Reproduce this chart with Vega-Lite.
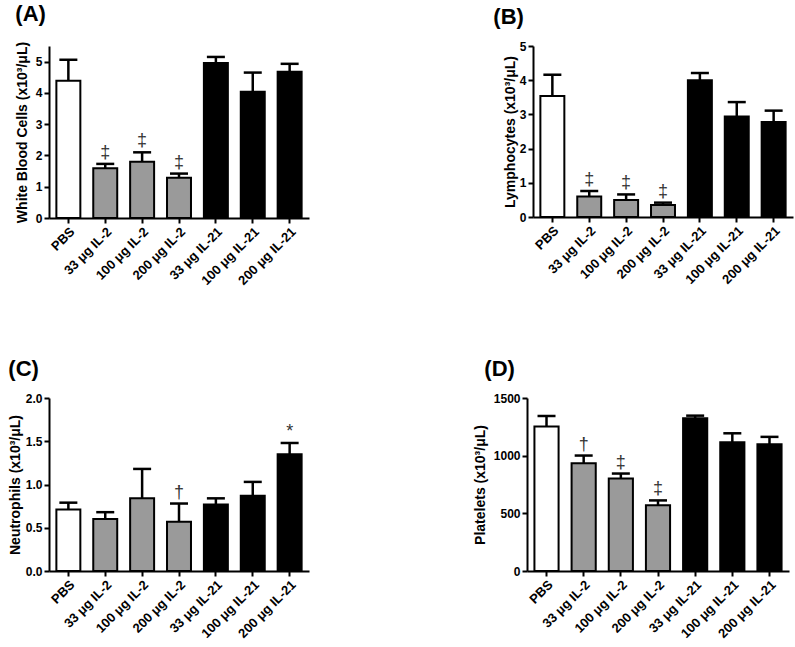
{
  "$schema": "https://vega.github.io/schema/vega-lite/v6.json",
  "padding": {"left": 8, "top": 2, "right": 5, "bottom": 5},
  "background": "white",
  "datasets": {
    "wbc": [
      {"group": "PBS", "cls": "ctrl", "value": 4.39, "err": 5.06, "sig": ""},
      {"group": "33 μg IL-2", "cls": "il2", "value": 1.59, "err": 1.73, "sig": "‡"},
      {"group": "100 μg IL-2", "cls": "il2", "value": 1.80, "err": 2.10, "sig": "‡"},
      {"group": "200 μg IL-2", "cls": "il2", "value": 1.29, "err": 1.42, "sig": "‡"},
      {"group": "33 μg IL-21", "cls": "il21", "value": 4.96, "err": 5.15, "sig": ""},
      {"group": "100 μg IL-21", "cls": "il21", "value": 4.04, "err": 4.65, "sig": ""},
      {"group": "200 μg IL-21", "cls": "il21", "value": 4.68, "err": 4.93, "sig": ""}
    ],
    "lymph": [
      {"group": "PBS", "cls": "ctrl", "value": 3.54, "err": 4.16, "sig": ""},
      {"group": "33 μg IL-2", "cls": "il2", "value": 0.60, "err": 0.76, "sig": "‡"},
      {"group": "100 μg IL-2", "cls": "il2", "value": 0.50, "err": 0.66, "sig": "‡"},
      {"group": "200 μg IL-2", "cls": "il2", "value": 0.35, "err": 0.42, "sig": "‡"},
      {"group": "33 μg IL-21", "cls": "il21", "value": 4.00, "err": 4.21, "sig": ""},
      {"group": "100 μg IL-21", "cls": "il21", "value": 2.94, "err": 3.36, "sig": ""},
      {"group": "200 μg IL-21", "cls": "il21", "value": 2.78, "err": 3.11, "sig": ""}
    ],
    "neut": [
      {"group": "PBS", "cls": "ctrl", "value": 0.71, "err": 0.79, "sig": ""},
      {"group": "33 μg IL-2", "cls": "il2", "value": 0.60, "err": 0.68, "sig": ""},
      {"group": "100 μg IL-2", "cls": "il2", "value": 0.84, "err": 1.18, "sig": ""},
      {"group": "200 μg IL-2", "cls": "il2", "value": 0.57, "err": 0.78, "sig": "†"},
      {"group": "33 μg IL-21", "cls": "il21", "value": 0.77, "err": 0.84, "sig": ""},
      {"group": "100 μg IL-21", "cls": "il21", "value": 0.87, "err": 1.03, "sig": ""},
      {"group": "200 μg IL-21", "cls": "il21", "value": 1.35, "err": 1.48, "sig": "*"}
    ],
    "plt": [
      {"group": "PBS", "cls": "ctrl", "value": 1252, "err": 1344, "sig": ""},
      {"group": "33 μg IL-2", "cls": "il2", "value": 935, "err": 1001, "sig": "†"},
      {"group": "100 μg IL-2", "cls": "il2", "value": 802, "err": 845, "sig": "‡"},
      {"group": "200 μg IL-2", "cls": "il2", "value": 571, "err": 612, "sig": "‡"},
      {"group": "33 μg IL-21", "cls": "il21", "value": 1324, "err": 1347, "sig": ""},
      {"group": "100 μg IL-21", "cls": "il21", "value": 1117, "err": 1194, "sig": ""},
      {"group": "200 μg IL-21", "cls": "il21", "value": 1099, "err": 1163, "sig": ""}
    ]
  },
  "vconcat": [
    {
      "hconcat": [
        {
          "data": {"name": "wbc"},
          "title": {"text": "(A)", "anchor": "start", "frame": "bounds", "fontSize": 22, "fontWeight": "bold", "offset": 11},
          "width": 260, "height": 172,
          "encoding": {
            "x": {"field": "group", "type": "nominal", "sort": null, "scale": {"paddingInner": 0.35, "paddingOuter": 0.2}, "axis": {"title": null, "labelAngle": -45}}
          },
          "layer": [
            {"mark": {"type": "rule", "strokeWidth": 2.5, "color": "black"},
             "encoding": {"y": {"field": "value", "type": "quantitative", "scale": {"domain": [0, 5.5], "nice": false}, "axis": {"title": "White Blood Cells (x10³/μL)", "values": [0, 1, 2, 3, 4, 5], "titlePadding": 6, "minExtent": 0}}, "y2": {"field": "err"}}},
            {"mark": {"type": "bar", "stroke": "black", "strokeWidth": 2},
             "encoding": {"y": {"field": "value", "type": "quantitative", "axis": {"title": "White Blood Cells (x10³/μL)", "values": [0, 1, 2, 3, 4, 5], "titlePadding": 6, "minExtent": 0}}, "fill": {"field": "cls", "type": "nominal", "scale": {"domain": ["ctrl", "il2", "il21"], "range": ["white", "#9a9a9a", "black"]}, "legend": null}}},
            {"mark": {"type": "tick", "thickness": 2.5, "size": 18, "color": "black", "opacity": 1},
             "encoding": {"y": {"field": "err", "type": "quantitative", "axis": {"title": "White Blood Cells (x10³/μL)", "values": [0, 1, 2, 3, 4, 5], "titlePadding": 6, "minExtent": 0}}}},
            {"mark": {"type": "text", "baseline": "alphabetic", "dy": -6, "fontSize": 18, "fill": "#333333", "font": "Liberation Sans"},
             "encoding": {"y": {"field": "err", "type": "quantitative", "axis": {"title": "White Blood Cells (x10³/μL)", "values": [0, 1, 2, 3, 4, 5], "titlePadding": 6, "minExtent": 0}}, "text": {"field": "sig"}}}
          ]
        },
        {
          "data": {"name": "lymph"},
          "title": {"text": "(B)", "anchor": "start", "frame": "bounds", "fontSize": 22, "fontWeight": "bold", "offset": 11, "dx": -10},
          "width": 260, "height": 171,
          "encoding": {
            "x": {"field": "group", "type": "nominal", "sort": null, "scale": {"paddingInner": 0.35, "paddingOuter": 0.2}, "axis": {"title": null, "labelAngle": -45}}
          },
          "layer": [
            {"mark": {"type": "rule", "strokeWidth": 2.5, "color": "black"},
             "encoding": {"y": {"field": "value", "type": "quantitative", "scale": {"domain": [0, 5], "nice": false}, "axis": {"title": "Lymphocytes (x10³/μL)", "values": [0, 1, 2, 3, 4, 5], "titlePadding": 2, "minExtent": 0}}, "y2": {"field": "err"}}},
            {"mark": {"type": "bar", "stroke": "black", "strokeWidth": 2},
             "encoding": {"y": {"field": "value", "type": "quantitative", "axis": {"title": "Lymphocytes (x10³/μL)", "values": [0, 1, 2, 3, 4, 5], "titlePadding": 2, "minExtent": 0}}, "fill": {"field": "cls", "type": "nominal", "scale": {"domain": ["ctrl", "il2", "il21"], "range": ["white", "#9a9a9a", "black"]}, "legend": null}}},
            {"mark": {"type": "tick", "thickness": 2.5, "size": 18, "color": "black", "opacity": 1},
             "encoding": {"y": {"field": "err", "type": "quantitative", "axis": {"title": "Lymphocytes (x10³/μL)", "values": [0, 1, 2, 3, 4, 5], "titlePadding": 2, "minExtent": 0}}}},
            {"mark": {"type": "text", "baseline": "alphabetic", "dy": -6, "fontSize": 18, "fill": "#333333", "font": "Liberation Sans"},
             "encoding": {"y": {"field": "err", "type": "quantitative", "axis": {"title": "Lymphocytes (x10³/μL)", "values": [0, 1, 2, 3, 4, 5], "titlePadding": 2, "minExtent": 0}}, "text": {"field": "sig"}}}
          ]
        }
      ],
      "spacing": 184
    },
    {
      "hconcat": [
        {
          "data": {"name": "neut"},
          "title": {"text": "(C)", "anchor": "start", "frame": "bounds", "fontSize": 22, "fontWeight": "bold", "offset": 11},
          "width": 260, "height": 173,
          "encoding": {
            "x": {"field": "group", "type": "nominal", "sort": null, "scale": {"paddingInner": 0.35, "paddingOuter": 0.2}, "axis": {"title": null, "labelAngle": -45}}
          },
          "layer": [
            {"mark": {"type": "rule", "strokeWidth": 2.5, "color": "black"},
             "encoding": {"y": {"field": "value", "type": "quantitative", "scale": {"domain": [0, 2], "nice": false}, "axis": {"title": "Neutrophils (x10³/μL)", "values": [0, 0.5, 1, 1.5, 2], "format": ".1f", "titlePadding": 3, "minExtent": 0}}, "y2": {"field": "err"}}},
            {"mark": {"type": "bar", "stroke": "black", "strokeWidth": 2},
             "encoding": {"y": {"field": "value", "type": "quantitative", "axis": {"title": "Neutrophils (x10³/μL)", "values": [0, 0.5, 1, 1.5, 2], "format": ".1f", "titlePadding": 3, "minExtent": 0}}, "fill": {"field": "cls", "type": "nominal", "scale": {"domain": ["ctrl", "il2", "il21"], "range": ["white", "#9a9a9a", "black"]}, "legend": null}}},
            {"mark": {"type": "tick", "thickness": 2.5, "size": 18, "color": "black", "opacity": 1},
             "encoding": {"y": {"field": "err", "type": "quantitative", "axis": {"title": "Neutrophils (x10³/μL)", "values": [0, 0.5, 1, 1.5, 2], "format": ".1f", "titlePadding": 3, "minExtent": 0}}}},
            {"mark": {"type": "text", "baseline": "alphabetic", "dy": -6, "fontSize": 18, "fill": "#333333", "font": "Liberation Sans"},
             "encoding": {"y": {"field": "err", "type": "quantitative", "axis": {"title": "Neutrophils (x10³/μL)", "values": [0, 0.5, 1, 1.5, 2], "format": ".1f", "titlePadding": 3, "minExtent": 0}}, "text": {"field": "sig"}}}
          ]
        },
        {
          "data": {"name": "plt"},
          "title": {"text": "(D)", "anchor": "start", "frame": "bounds", "fontSize": 22, "fontWeight": "bold", "offset": 11, "dx": 11},
          "width": 262, "height": 173,
          "encoding": {
            "x": {"field": "group", "type": "nominal", "sort": null, "scale": {"paddingInner": 0.35, "paddingOuter": 0.2}, "axis": {"title": null, "labelAngle": -45}}
          },
          "layer": [
            {"mark": {"type": "rule", "strokeWidth": 2.5, "color": "black"},
             "encoding": {"y": {"field": "value", "type": "quantitative", "scale": {"domain": [0, 1500], "nice": false}, "axis": {"title": "Platelets (x10³/μL)", "values": [0, 500, 1000, 1500], "format": "d", "titlePadding": 6, "minExtent": 0}}, "y2": {"field": "err"}}},
            {"mark": {"type": "bar", "stroke": "black", "strokeWidth": 2},
             "encoding": {"y": {"field": "value", "type": "quantitative", "axis": {"title": "Platelets (x10³/μL)", "values": [0, 500, 1000, 1500], "format": "d", "titlePadding": 6, "minExtent": 0}}, "fill": {"field": "cls", "type": "nominal", "scale": {"domain": ["ctrl", "il2", "il21"], "range": ["white", "#9a9a9a", "black"]}, "legend": null}}},
            {"mark": {"type": "tick", "thickness": 2.5, "size": 18, "color": "black", "opacity": 1},
             "encoding": {"y": {"field": "err", "type": "quantitative", "axis": {"title": "Platelets (x10³/μL)", "values": [0, 500, 1000, 1500], "format": "d", "titlePadding": 6, "minExtent": 0}}}},
            {"mark": {"type": "text", "baseline": "alphabetic", "dy": -6, "fontSize": 18, "fill": "#333333", "font": "Liberation Sans"},
             "encoding": {"y": {"field": "err", "type": "quantitative", "axis": {"title": "Platelets (x10³/μL)", "values": [0, 500, 1000, 1500], "format": "d", "titlePadding": 6, "minExtent": 0}}, "text": {"field": "sig"}}}
          ]
        }
      ],
      "spacing": 164
    }
  ],
  "spacing": 70,
  "align": "none",
  "resolve": {"scale": {"fill": "independent"}},
  "config": {
    "font": "Liberation Sans",
    "view": {"stroke": null},
    "title": {"color": "black", "font": "Liberation Sans"},
    "axis": {
      "grid": false,
      "labelOverlap": false,
      "domainColor": "black", "domainWidth": 2,
      "tickColor": "black", "tickWidth": 2, "tickSize": 5,
      "labelColor": "black", "labelFont": "Liberation Sans", "labelFontWeight": "bold", "labelFontSize": 12, "labelPadding": 2,
      "titleColor": "black", "titleFont": "Liberation Sans", "titleFontWeight": "bold", "titleFontSize": 14
    },
    "axisY": {"minExtent": 0},
    "axisX": {"labelFontSize": 13}
  }
}
